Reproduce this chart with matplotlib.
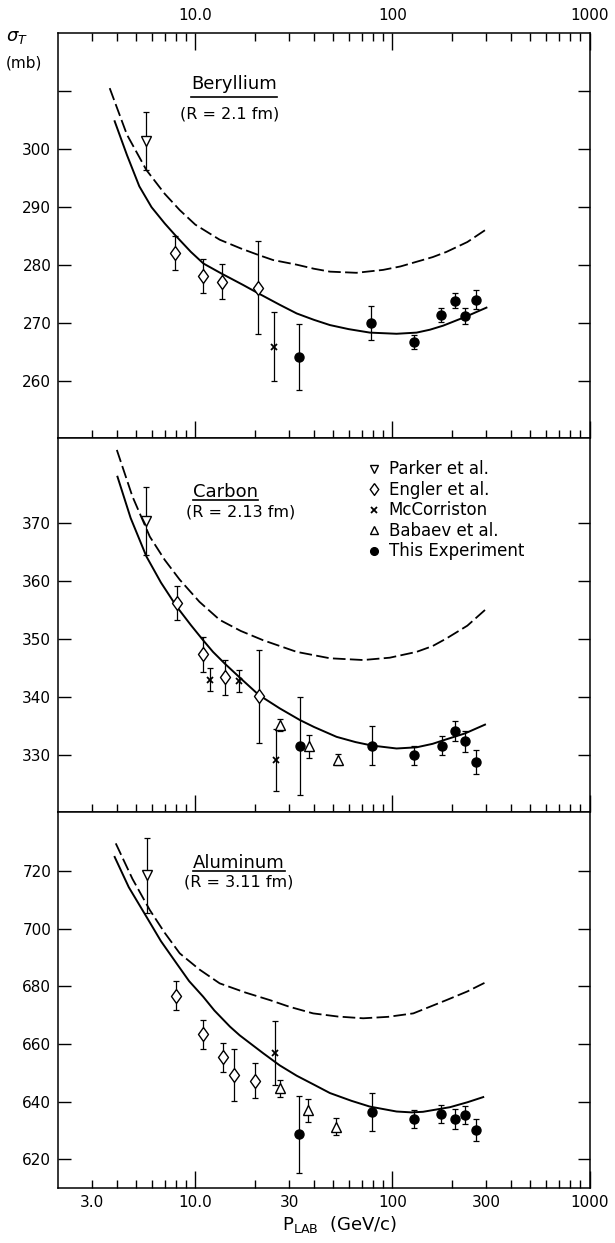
import matplotlib
matplotlib.use("Agg")
import matplotlib.pyplot as plt
from matplotlib.ticker import FixedLocator, FixedFormatter
from matplotlib.lines import Line2D

plt.rcParams["font.family"] = "DejaVu Sans"
plt.rcParams["mathtext.fontset"] = "dejavusans"

# ---------------- Beryllium ----------------
be_parker_p = [5.6]
be_parker_s = [301.4]
be_parker_e = [5.0]
be_engler_p = [7.9, 10.9, 13.7, 20.8]
be_engler_s = [282.1, 278.2, 277.2, 276.1]
be_engler_e = [2.9, 2.9, 3.0, 8.0]
be_mcc_p = [25.1]
be_mcc_s = [266.0]
be_mcc_e = [6.0]
be_this_p = [33.5, 78, 129, 176, 208, 234, 266]
be_this_s = [264.2, 270.0, 266.8, 271.4, 273.9, 271.3, 274.1]
be_this_e = [5.6, 2.9, 1.2, 1.2, 1.3, 1.4, 1.6]
be_fit_p = [3.9, 4.5, 5.2, 6.0, 7.0, 7.9, 9.5, 11.0, 13.7, 15.0, 17.5, 20.8, 26.8,
            32.7, 40, 48.2, 60, 76.9, 105, 132.6, 155, 181, 234, 300]
be_fit_s = [304.8, 299.0, 293.6, 290.0, 287.2, 285.2, 282.3, 280.3, 278.5, 277.8, 276.6,
            275.2, 273.2, 271.7, 270.6, 269.7, 269.0, 268.4, 268.2, 268.4, 268.9, 269.6,
            271.1, 272.7]
be_nocorr_p = [3.68, 4.5, 5.65, 7.0, 8.34, 10, 13.3, 17, 20.8, 24.8, 32.7, 40, 48.2,
               65.7, 89.7, 110, 132.6, 160, 188, 240, 300]
be_nocorr_s = [310.5, 302.5, 296.4, 292.3, 289.5, 287.0, 284.4, 282.9, 281.8, 280.9,
               280.1, 279.4, 278.9, 278.7, 279.2, 279.8, 280.6, 281.4, 282.3, 284.0, 286.2]

# ---------------- Carbon ----------------
c_parker_p = [5.65]
c_parker_s = [370.3]
c_parker_e = [5.9]
c_engler_p = [8.1, 11.0, 14.1, 21.0]
c_engler_s = [356.2, 347.4, 343.4, 340.2]
c_engler_e = [2.9, 3.0, 3.0, 8.0]
c_mcc_p = [11.85, 16.7, 25.6]
c_mcc_s = [343.0, 342.8, 329.2]
c_mcc_e = [2.0, 1.9, 5.3]
c_bab_p = [27.0, 37.9, 52.7]
c_bab_s = [335.2, 331.6, 329.3]
c_bab_e = [1.0, 2.0, 0.9]
c_this_p = [33.9, 78.9, 129, 178, 208, 234, 267]
c_this_s = [331.6, 331.7, 330.0, 331.7, 334.2, 332.4, 328.9]
c_this_e = [8.4, 3.4, 1.6, 1.6, 1.8, 1.8, 2.0]
c_fit_p = [4.03, 4.7, 5.65, 6.7, 8.04, 9.5, 10.96, 12.3, 14.1, 16.8, 21.0, 26.8, 33.9,
           40, 52.1, 65, 78.9, 105, 132.6, 160, 181, 234, 295]
c_fit_s = [377.9, 370.8, 364.2, 359.7, 355.6, 352.4, 349.8, 347.8, 345.8, 343.4, 340.4,
           338.1, 336.1, 334.9, 333.2, 332.3, 331.7, 331.2, 331.4, 332.0, 332.6, 333.8,
           335.3]
c_nocorr_p = [4.0, 4.8, 5.88, 7.0, 8.34, 10.5, 13.3, 17, 22.1, 32.7, 48.2, 71.1, 97,
              132.6, 160, 188, 240, 295]
c_nocorr_s = [382.5, 374.5, 367.6, 363.6, 360.2, 356.4, 353.3, 351.4, 349.8, 347.8,
              346.7, 346.4, 346.8, 347.8, 348.8, 350.1, 352.3, 355.0]

# ---------------- Aluminum ----------------
al_parker_p = [5.7]
al_parker_s = [718.5]
al_parker_e = [13.0]
al_engler_p = [8.0, 10.9, 13.8, 15.7, 20.2]
al_engler_s = [676.7, 663.3, 655.4, 649.2, 647.3]
al_engler_e = [5.0, 5.0, 5.0, 9.0, 6.0]
al_mcc_p = [25.3]
al_mcc_s = [656.8]
al_mcc_e = [11.0]
al_bab_p = [26.9, 37.4, 51.7]
al_bab_s = [644.6, 637.1, 631.3]
al_bab_e = [3.0, 4.0, 2.9]
al_this_p = [33.5, 78.4, 128.7, 175.6, 209, 234, 267]
al_this_s = [628.7, 636.5, 634.0, 635.7, 634.0, 635.4, 630.2]
al_this_e = [13.3, 6.5, 3.2, 3.0, 3.4, 3.2, 3.8]
al_fit_p = [3.9, 4.6, 5.65, 6.7, 8.04, 9.3, 10.96, 12.5, 15.0, 16.8, 22.1, 26.8, 32.7,
            40, 48.2, 62, 76.9, 105, 125, 143, 196, 240, 289]
al_fit_s = [724.8, 714.3, 704.1, 695.6, 687.9, 681.8, 676.4, 671.6, 666.0, 663.0, 656.8,
            652.6, 649.0, 645.9, 643.0, 640.3, 638.3, 636.6, 636.3, 636.5, 638.1, 639.8,
            641.6]
al_nocorr_p = [3.95, 4.8, 5.88, 7.0, 8.34, 10.5, 13.3, 18, 23.9, 30, 39.6, 53, 71.1, 95,
               127.7, 155, 188, 240, 300]
al_nocorr_s = [729.5, 717.2, 706.4, 698.5, 691.4, 685.8, 681.0, 677.8, 675.2, 672.9,
               670.6, 669.5, 668.9, 669.4, 670.6, 672.9, 675.2, 678.2, 681.5]

minor_x = [3, 4, 5, 6, 7, 8, 9, 20, 30, 40, 50, 60, 70, 80, 90,
           200, 300, 400, 500, 600, 700, 800, 900]
minor_x_labels = ["3.0" if v == 3 else ("30" if v == 30 else ("300" if v == 300 else ""))
                  for v in minor_x]
major_x_labels = ["10.0", "100", "1000"]

DIAMOND = [(0, 1), (0.72, 0), (0, -1), (-0.72, 0), (0, 1)]
STYLES = {
    "parker": dict(marker="v", ms=6.5, mfc="white"),
    "engler": dict(marker=DIAMOND, ms=10, mfc="white"),
    "mcc": dict(marker="x", ms=4.5, mfc="black", mew=1.3),
    "babaev": dict(marker="^", ms=6.5, mfc="white"),
    "this": dict(marker="o", ms=6.5, mfc="black"),
}


def points(ax, p, s, e, kind):
    st = dict(STYLES[kind])
    ax.errorbar(p, s, yerr=e, fmt="none", ecolor="black", elinewidth=0.9,
                capsize=2.2, capthick=0.9, zorder=3)
    ax.plot(p, s, linestyle="none", color="black", mec="black",
            mew=st.pop("mew", 1.0), zorder=4, **st)


def curves(ax, fp, fs, np_, ns):
    ax.plot(fp, fs, color="black", lw=1.4, zorder=2, solid_joinstyle="round")
    ax.plot(np_, ns, color="black", lw=1.3, linestyle=(0, (7, 2.4)), zorder=2)


def frame(ax, ylim, yticks, ylabels, top=False, bottom_labels=False):
    ax.set_xscale("log")
    ax.set_xlim(2, 1000)
    ax.set_ylim(*ylim)
    ax.xaxis.set_major_locator(FixedLocator([10, 100, 1000]))
    ax.xaxis.set_minor_locator(FixedLocator(minor_x))
    if bottom_labels:
        ax.xaxis.set_major_formatter(FixedFormatter(major_x_labels))
        ax.xaxis.set_minor_formatter(FixedFormatter(minor_x_labels))
    elif top:
        ax.xaxis.set_major_formatter(FixedFormatter(major_x_labels))
        ax.xaxis.set_minor_formatter(FixedFormatter([""] * len(minor_x)))
    ax.tick_params(axis="x", which="both", direction="in", bottom=True, top=top,
                   labelbottom=bottom_labels, labeltop=top, width=1.0,
                   labelsize=11, pad=5)
    ax.tick_params(axis="x", which="major", length=12)
    ax.tick_params(axis="x", which="minor", length=6)
    if top:
        ax.tick_params(axis="x", which="both", pad=7)
    ax.yaxis.set_major_locator(FixedLocator(yticks))
    ax.yaxis.set_major_formatter(FixedFormatter(ylabels))
    ax.tick_params(axis="y", which="major", direction="in", left=True, right=True,
                   length=9, width=1.0, labelsize=11, pad=4.5)
    for sp in ax.spines.values():
        sp.set_linewidth(1.1)


fig = plt.figure(figsize=(6.15, 12.43), dpi=100)
L, W = 57.5 / 615, 532 / 615
ax_be = fig.add_axes([L, 0.64739, W, 0.32607])
ax_c = fig.add_axes([L, 0.34634, W, 0.30105])
ax_al = fig.add_axes([L, 0.04425, W, 0.30209])

# Beryllium
curves(ax_be, be_fit_p, be_fit_s, be_nocorr_p, be_nocorr_s)
points(ax_be, be_parker_p, be_parker_s, be_parker_e, "parker")
points(ax_be, be_engler_p, be_engler_s, be_engler_e, "engler")
points(ax_be, be_mcc_p, be_mcc_s, be_mcc_e, "mcc")
points(ax_be, be_this_p, be_this_s, be_this_e, "this")
frame(ax_be, (250.2, 320.0), [260, 270, 280, 290, 300, 310],
      ["260", "270", "280", "290", "300", ""], top=True)

# Carbon
curves(ax_c, c_fit_p, c_fit_s, c_nocorr_p, c_nocorr_s)
points(ax_c, c_parker_p, c_parker_s, c_parker_e, "parker")
points(ax_c, c_engler_p, c_engler_s, c_engler_e, "engler")
points(ax_c, c_mcc_p, c_mcc_s, c_mcc_e, "mcc")
points(ax_c, c_bab_p, c_bab_s, c_bab_e, "babaev")
points(ax_c, c_this_p, c_this_s, c_this_e, "this")
frame(ax_c, (320.2, 384.5), [330, 340, 350, 360, 370],
      ["330", "340", "350", "360", "370"])

# Aluminum
curves(ax_al, al_fit_p, al_fit_s, al_nocorr_p, al_nocorr_s)
points(ax_al, al_parker_p, al_parker_s, al_parker_e, "parker")
points(ax_al, al_engler_p, al_engler_s, al_engler_e, "engler")
points(ax_al, al_mcc_p, al_mcc_s, al_mcc_e, "mcc")
points(ax_al, al_bab_p, al_bab_s, al_bab_e, "babaev")
points(ax_al, al_this_p, al_this_s, al_this_e, "this")
frame(ax_al, (610.1, 740.2), [620, 640, 660, 680, 700, 720],
      ["620", "640", "660", "680", "700", "720"], bottom_labels=True)
ax_al.set_xlabel(r"P$_{\mathrm{LAB}}$  (GeV/c)", fontsize=13)
ax_al.xaxis.set_label_coords(0.531, -0.068)

# legend in the carbon panel
leg_keys = ["parker", "engler", "mcc", "babaev", "this"]
leg_text = ["Parker et al.", "Engler et al.", "McCorriston", "Babaev et al.", "This Experiment"]
handles = []
for k in leg_keys:
    st = dict(STYLES[k])
    ms = st.pop("ms") * 0.85
    handles.append(Line2D([], [], linestyle="none", color="black", mec="black",
                          mew=st.pop("mew", 1.0), ms=ms, **st))
ax_c.legend(handles, leg_text, loc="upper left", bbox_to_anchor=(0.579, 0.941),
            frameon=False, fontsize=12, handlelength=1.0, handletextpad=0.4,
            labelspacing=0.15, borderpad=0, borderaxespad=0)

# element labels
names = [
    (ax_be, "Beryllium", 0.3318, 0.8611, 0.8413, "(R = 2.1 fm)", 0.3242, 0.7895),
    (ax_c, "Carbon", 0.3167, 0.8431, 0.8351, "(R = 2.13 fm)", 0.3449, 0.7905),
    (ax_al, "Aluminum", 0.3412, 0.8514, 0.8429, "(R = 3.11 fm)", 0.3412, 0.8024),
]
name_texts = []
for ax, nm, nx, ny, uy, rr, rx, ry in names:
    t = ax.text(nx, ny, nm, transform=ax.transAxes, ha="center", va="baseline", fontsize=13)
    ax.text(rx, ry, rr, transform=ax.transAxes, ha="center", va="baseline", fontsize=11.5)
    name_texts.append((ax, t, uy))

fig.canvas.draw()
renderer = fig.canvas.get_renderer()
for ax, t, uy in name_texts:
    bb = t.get_window_extent(renderer)
    inv = ax.transAxes.inverted()
    x0 = inv.transform((bb.x0, bb.y0))[0]
    x1 = inv.transform((bb.x1, bb.y0))[0]
    ax.plot([x0, x1], [uy, uy], transform=ax.transAxes, color="black", lw=1.2)

fig.text(6 / 615, 1 - 41 / 1243, r"$\sigma_{T}$", fontsize=13, va="baseline")
fig.text(6 / 615, 1 - 68 / 1243, "(mb)", fontsize=11, va="baseline")

fig.savefig("out.png", dpi=100)
